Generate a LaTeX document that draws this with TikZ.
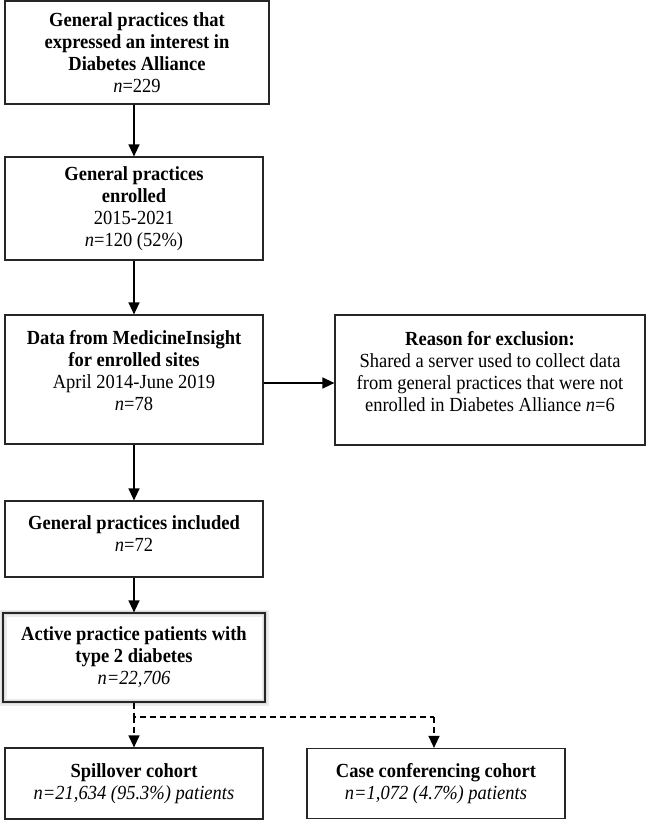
\documentclass[tikz,border=0pt]{standalone}
\usepackage{fontspec}
\setmainfont{Liberation Serif}[FakeStretch=0.925]
\usetikzlibrary{arrows.meta}
\begin{document}
\begin{tikzpicture}[x=1pt,y=-1pt,
  box/.style={draw=black!85, line width=1.2pt, align=center, inner sep=0pt,
    font=\fontsize{20}{22}\selectfont, anchor=center},
  arr/.style={line width=1.3pt, -{Triangle[length=12pt,width=11pt]}},
  darr/.style={arr, dash pattern=on 6pt off 4pt},
  dline/.style={line width=1.3pt, dash pattern=on 6pt off 4pt}]
\fill[white] (0,0) rectangle (646,820);
\useasboundingbox (0,0) rectangle (646,820);

\node[box, minimum width=264pt, minimum height=103pt] (b1) at (137,52.5)
  {\textbf{General practices that}\\\textbf{expressed an interest in}\\\textbf{Diabetes Alliance}\\\textit{n}=229};
\node[box, minimum width=258pt, minimum height=103pt] (b2) at (134,208.5)
  {\textbf{General practices}\\\textbf{enrolled}\\2015-2021\\\textit{n}=120 (52\%)};
\node[box, minimum width=258pt, minimum height=129pt] (b3) at (134,379.5)
  {\textbf{Data from MedicineInsight}\\\textbf{for enrolled sites}\\April 2014-June 2019\\\textit{n}=78\\[-4pt]\mbox{}};
\node[box, minimum width=310pt, minimum height=130pt] (ex) at (490,380)
  {\textbf{Reason for exclusion:}\\Shared a server used to collect data\\from general practices that were not\\enrolled in Diabetes Alliance \textit{n}=6\\[-4pt]\mbox{}};
\node[box, minimum width=258pt, minimum height=76pt] (b4) at (134,539)
  {\textbf{General practices included}\\\textit{n}=72\\[-12pt]\mbox{}};
\node[box, minimum width=262pt, minimum height=89pt,
  preaction={draw=black!8, line width=7pt},
  preaction={draw=black!14, line width=4pt}] (b5) at (134,657.5)
  {\textbf{Active practice patients with}\\\textbf{type 2 diabetes}\\\textit{n=22,706}};
\node[box, minimum width=258pt, minimum height=71pt] (sp) at (134,783.5)
  {\textbf{Spillover cohort}\\\textit{n=21,634 (95.3\%) patients}};
\node[box, minimum width=258pt, minimum height=70pt] (cc) at (436,783.5)
  {\textbf{Case conferencing cohort}\\\textit{n=1,072 (4.7\%) patients}};

\coordinate (j) at (134,717);
\coordinate (jr) at (434,717);

\draw[arr] (b1.south -| b2.north) -- (b2.north);
\draw[arr] (b2) -- (b3);
\draw[arr] (b3) -- (b4);
\draw[arr] (b4) -- (b5);
\draw[arr] (b3.east |- 0,383) -- (ex.west |- 0,383);
\draw[dline] (b5.south) -- (j) -- (jr);
\draw[darr] (j) -- (sp.north);
\draw[darr] (jr) -- (jr |- cc.north);
\end{tikzpicture}
\end{document}
